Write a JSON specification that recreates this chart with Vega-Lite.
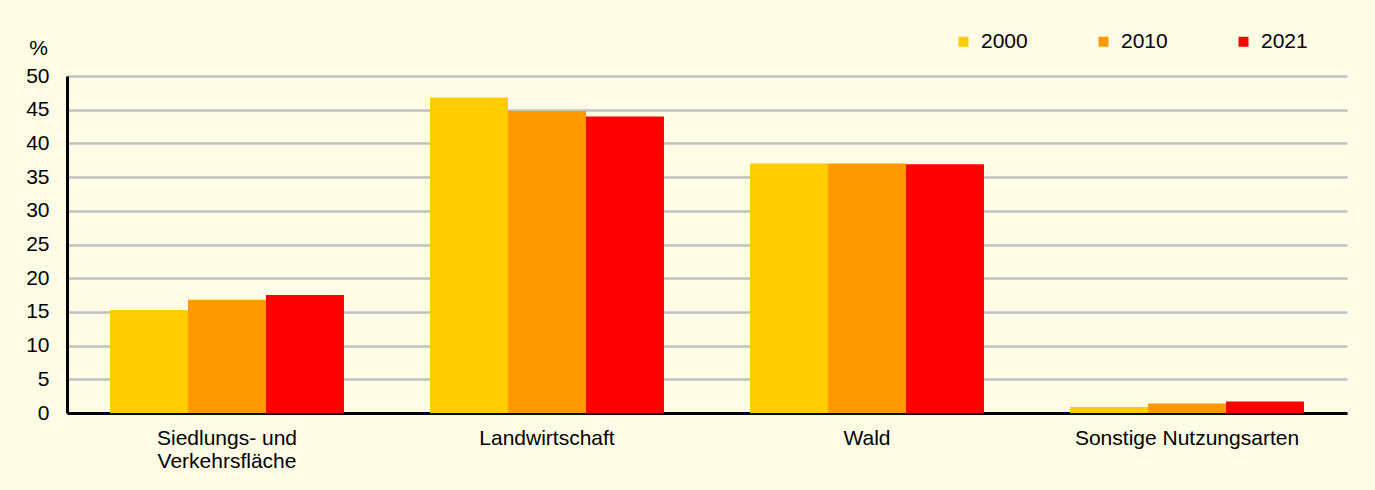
{
  "$schema": "https://vega.github.io/schema/vega-lite/v6.json",
  "autosize": "none",
  "width": 1280,
  "height": 337,
  "padding": {"left": 67, "top": 76, "right": 28, "bottom": 77},
  "background": "#FFFCE6",
  "config": {
    "font": "Liberation Sans",
    "view": {"stroke": null},
    "axis": {"labelFont": "Liberation Sans", "labelColor": "#000000", "titleFont": "Liberation Sans"}
  },
  "data": {
    "values": [
      {"kategorie": "Siedlungs- und Verkehrsfläche", "jahr": "2000", "anteil": 15.3},
      {"kategorie": "Siedlungs- und Verkehrsfläche", "jahr": "2010", "anteil": 16.8},
      {"kategorie": "Siedlungs- und Verkehrsfläche", "jahr": "2021", "anteil": 17.5},
      {"kategorie": "Landwirtschaft", "jahr": "2000", "anteil": 46.8},
      {"kategorie": "Landwirtschaft", "jahr": "2010", "anteil": 44.8},
      {"kategorie": "Landwirtschaft", "jahr": "2021", "anteil": 44.0},
      {"kategorie": "Wald", "jahr": "2000", "anteil": 37.0},
      {"kategorie": "Wald", "jahr": "2010", "anteil": 37.0},
      {"kategorie": "Wald", "jahr": "2021", "anteil": 36.9},
      {"kategorie": "Sonstige Nutzungsarten", "jahr": "2000", "anteil": 0.9},
      {"kategorie": "Sonstige Nutzungsarten", "jahr": "2010", "anteil": 1.4},
      {"kategorie": "Sonstige Nutzungsarten", "jahr": "2021", "anteil": 1.7}
    ]
  },
  "mark": {"type": "bar"},
  "encoding": {
    "x": {
      "field": "kategorie",
      "type": "nominal",
      "sort": ["Siedlungs- und Verkehrsfläche", "Landwirtschaft", "Wald", "Sonstige Nutzungsarten"],
      "scale": {"paddingInner": 0.269, "paddingOuter": 0.1345},
      "axis": {
        "title": null,
        "labelAngle": 0,
        "labelFontSize": 21,
        "labelPadding": 14,
        "labelLineHeight": 23,
        "labelBaseline": "top",
        "labelLimit": 0,
        "ticks": false,
        "domainColor": "#000000",
        "domainWidth": 3,
        "grid": false,
        "labelExpr": "datum.value == 'Siedlungs- und Verkehrsfläche' ? ['Siedlungs- und', 'Verkehrsfläche'] : datum.label"
      }
    },
    "xOffset": {
      "field": "jahr",
      "type": "nominal",
      "scale": {"paddingInner": 0, "paddingOuter": 0}
    },
    "y": {
      "field": "anteil",
      "type": "quantitative",
      "scale": {"domain": [0, 50], "nice": false},
      "axis": {
        "title": "%",
        "titleAngle": 0,
        "titleFontSize": 21,
        "titleFontWeight": "normal",
        "titleX": -29,
        "titleY": -28,
        "titleAlign": "center",
        "titleBaseline": "middle",
        "values": [0, 5, 10, 15, 20, 25, 30, 35, 40, 45, 50],
        "labelFontSize": 21,
        "labelPadding": 18,
        "ticks": false,
        "domainColor": "#000000",
        "domainWidth": 3,
        "grid": true,
        "gridColor": "#C0C0C0",
        "gridWidth": 2.5
      }
    },
    "color": {
      "field": "jahr",
      "type": "nominal",
      "scale": {"domain": ["2000", "2010", "2021"], "range": ["#FFCC00", "#FF9900", "#FF0000"]},
      "legend": {
        "title": null,
        "orient": "none",
        "direction": "horizontal",
        "legendX": 886,
        "legendY": -45,
        "symbolType": "square",
        "symbolSize": 100,
        "symbolStrokeWidth": 0,
        "labelFontSize": 21,
        "labelOffset": 7,
        "columnPadding": 65
      }
    }
  }
}
